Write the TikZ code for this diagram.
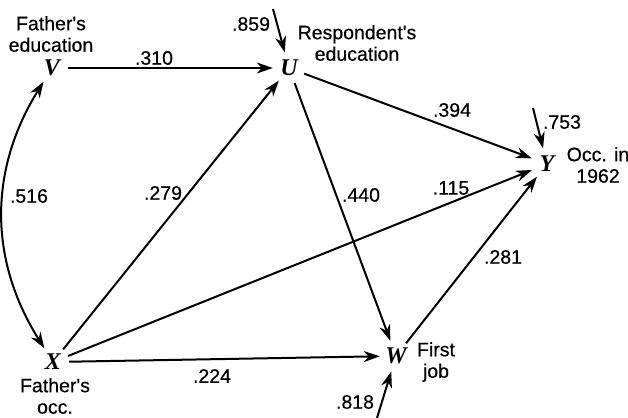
\documentclass[tikz,border=0pt]{standalone}
\usepackage{fontspec}
\setmainfont{Liberation Sans}
\newfontfamily\labfont{Liberation Sans}[FakeBold=0.5]
\newfontfamily\varfont{Liberation Serif}
\usetikzlibrary{arrows.meta}
\tikzset{
  var/.style={circle,minimum size=32pt,inner sep=0pt,font=\fontsize{24}{24}\selectfont\varfont\bfseries\itshape},
  lab/.style={align=center,inner sep=0pt,font=\fontsize{19.5}{21.5}\selectfont\labfont},
  num/.style={inner sep=0pt,font=\fontsize{19.5}{21.5}\selectfont\labfont},
  arr/.style={line width=2pt,-{Stealth[length=16pt,width=11pt,inset=5pt]}},
  darr/.style={line width=2pt,{Stealth[length=16pt,width=11pt,inset=5pt]}-{Stealth[length=16pt,width=11pt,inset=5pt]}}
}
\begin{document}
\begin{tikzpicture}[x=1pt,y=-1pt]
\useasboundingbox (0,0) rectangle (628,417);
% variables
\node[var] (V) at (52,68) {V};
\node[var] (U) at (289,68) {U};
\node[var] (Y) at (547,164) {Y};
\node[var] (X) at (53,362) {X};
\node[var] (W) at (396,356) {W};
% residual origins
\coordinate (eU) at (273,9);
\coordinate (eY) at (533,108);
\coordinate (eW) at (377,418);
% labels
\node[lab] (lV) at (51,34) {Father's\\education};
\node[lab] (lU) at (357,43) {Respondent's\\education};
\node[lab] (lY) at (598,165) {Occ. in\\1962};
\node[lab] (lX) at (55,396) {Father's\\occ.};
\node[lab] (lW) at (436,362) {First\\job};
% connectors
\draw[arr] (V) -- (U);
\draw[arr] (X) -- (U);
\draw[arr] (U) -- (Y);
\draw[arr] (U) -- (W);
\draw[arr] (X) -- (Y);
\draw[arr] (X) -- (W);
\draw[arr] (W) -- (Y);
\draw[darr] (V) to[bend right=32] (X);
\draw[arr] (eU) -- (U);
\draw[arr] (eY) -- (Y);
\draw[arr] (eW) -- (W);
% coefficients
\node[num] (n310) at (154,58) {.310};
\node[num] (n394) at (452,110) {.394};
\node[num] (n279) at (163,193) {.279};
\node[num] (n440) at (361,195) {.440};
\node[num] (n115) at (451,188) {.115};
\node[num] (n281) at (503,257) {.281};
\node[num] (n224) at (212,376) {.224};
\node[num] (n516) at (29,196) {.516};
\node[num] (n859) at (251,24) {.859};
\node[num] (n753) at (562,122) {.753};
\node[num] (n818) at (355,402) {.818};
\end{tikzpicture}
\end{document}
